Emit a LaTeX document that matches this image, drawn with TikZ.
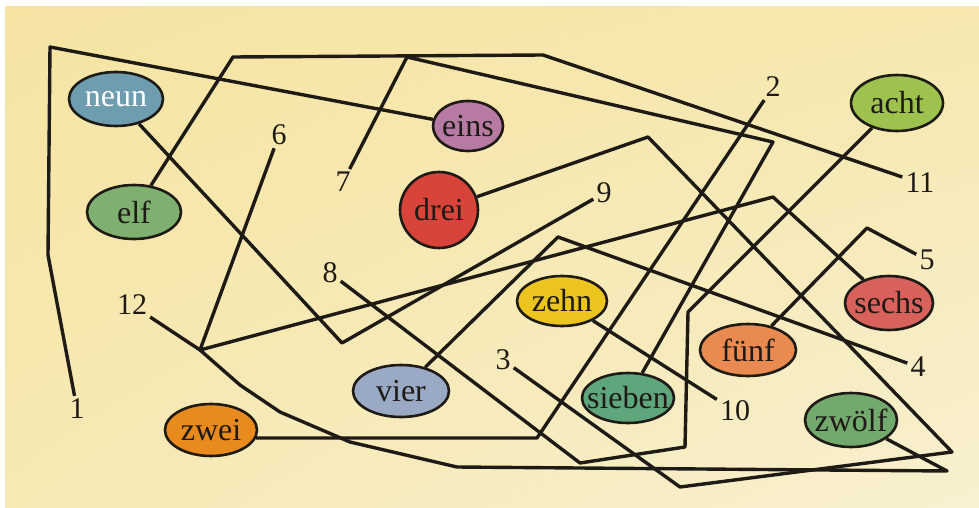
\documentclass[tikz,border=0pt]{standalone}
\usepackage{fontspec}
\setmainfont{Liberation Serif}
\usetikzlibrary{shapes.geometric,shadings}
\definecolor{ink}{HTML}{1E1A16}
\definecolor{paper}{HTML}{F5E4A2}
\definecolor{paperlight}{HTML}{F8F0CF}
\definecolor{neunfill}{HTML}{6F9DB0}
\definecolor{einsfill}{HTML}{B77BA3}
\definecolor{elffill}{HTML}{7FB06F}
\definecolor{dreifill}{HTML}{D8433A}
\definecolor{achtfill}{HTML}{9DC24E}
\definecolor{zehnfill}{HTML}{EBC51E}
\definecolor{sechsfill}{HTML}{D8615B}
\definecolor{fuenffill}{HTML}{E98A50}
\definecolor{siebenfill}{HTML}{5FA67D}
\definecolor{zwoelffill}{HTML}{72A96D}
\definecolor{vierfill}{HTML}{9AA9C4}
\definecolor{zweifill}{HTML}{E98B1C}
\newcommand{\wort}[1]{\makebox[0pt]{#1}}
\begin{document}
\begin{tikzpicture}[x=1pt,y=-1pt,
    word/.style={ellipse,draw=ink,line width=2.6pt,minimum width=92pt,minimum height=52pt,
        inner sep=0pt,text=ink,font=\fontsize{32}{36}\selectfont},
    num/.style={inner sep=3pt,text=ink,font=\fontsize{30}{34}\selectfont},
    wire/.style={ink,line width=3.4pt,line join=round}]
    \useasboundingbox (0,0) rectangle (979,508);
    \fill[white] (0,0) rectangle (979,508);
    \shade[upper left=paper,upper right=paper!70!paperlight,lower left=paper!60!paperlight,lower right=paperlight]
        (5,7) rectangle (979,508);

    \node[word,fill=einsfill,minimum width=70pt,minimum height=50pt] (w1) at (468,126) {\wort{eins}};
    \node[word,fill=zweifill] (w2) at (211,430) {\wort{zwei}};
    \node[word,fill=dreifill,minimum width=78pt,minimum height=76pt] (w3) at (439,210) {\wort{drei}};
    \node[word,fill=vierfill,minimum width=96pt] (w4) at (401,391) {\wort{vier}};
    \node[word,fill=fuenffill,minimum width=96pt] (w5) at (748,350) {\wort{fünf}};
    \node[word,fill=sechsfill,minimum width=88pt,minimum height=54pt] (w6) at (889,303) {\wort{sechs}};
    \node[word,fill=siebenfill,minimum height=50pt] (w7) at (628,398) {\wort{sieben}};
    \node[word,fill=achtfill,minimum height=56pt] (w8) at (897,103) {\wort{acht}};
    \node[word,fill=neunfill,text=white,minimum width=94pt,minimum height=54pt] (w9) at (116,99) {\wort{neun}};
    \node[word,fill=zehnfill,minimum width=90pt,minimum height=50pt] (w10) at (562,301) {\wort{zehn}};
    \node[word,fill=elffill,minimum width=94pt,minimum height=54pt] (w11) at (134,212) {\wort{elf}};
    \node[word,fill=zwoelffill,minimum height=54pt] (w12) at (851,420) {\wort{zwölf}};

    \node[num] (n1) at (77,409) {1};
    \node[num] (n2) at (773,87) {2};
    \node[num] (n3) at (503,360) {3};
    \node[num] (n4) at (918,367) {4};
    \node[num] (n5) at (927,260) {5};
    \node[num] (n6) at (279,135) {6};
    \node[num] (n7) at (343,182) {7};
    \node[num] (n8) at (330,273) {8};
    \node[num] (n9) at (604,193) {9};
    \node[num] (n10) at (735,411) {10};
    \node[num] (n11) at (920,183) {11};
    \node[num] (n12) at (132,305) {12};

    \draw [wire] (n1) -- (48,255) -- (50,47) -- (w1) ;
    \draw [wire] (n2) -- (537,438) -- (w2.-10) ;
    \draw [wire] (n3) -- (680,487) -- (952,452) -- (648,137) -- (w3) ;
    \draw [wire] (n4) -- (558,237) -- (w4) ;
    \draw [wire] (n5) -- (867,228) -- (w5) ;
    \draw [wire] (n6) -- (200,350) -- (773,197) -- (w6) ;
    \draw [wire] (n7) -- (407,57) -- (773,142) -- (w7) ;
    \draw [wire] (n8) -- (580,463) -- (685,447) -- (688,312) -- (w8) ;
    \draw [wire] (n9) -- (342,343) -- (w9) ;
    \draw [wire] (n10) -- (w10) ;
    \draw [wire] (n11) -- (543,55) -- (233,57) -- (w11) ;
    \draw [wire] (n12) -- (200,350) -- (240,385) -- (280,412) -- (350,442) -- (457,467) -- (947,471) -- (w12) ;
\end{tikzpicture}
\end{document}
